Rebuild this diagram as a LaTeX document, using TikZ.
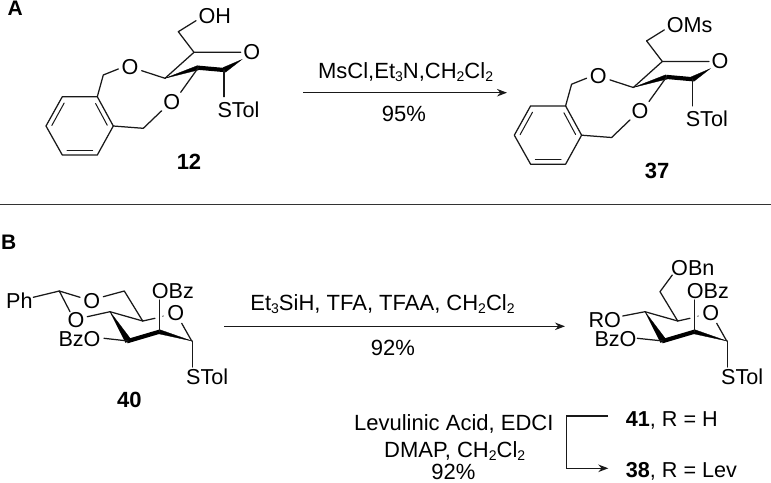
\documentclass[tikz,border=0pt]{standalone}
\usepackage{fontspec}
\setmainfont{Liberation Sans}
\usetikzlibrary{arrows.meta}
\newcommand\chemsub[1]{\raisebox{-0.28ex}{\fontsize{14}{15}\selectfont #1}}
\tikzset{
  lbl/.style={inner sep=0pt,anchor=base west,font=\fontsize{21.6}{25}\selectfont},
  lblc/.style={inner sep=0pt,anchor=base,font=\fontsize{22}{25}\selectfont},
  atom/.style={inner sep=0pt,anchor=center,font=\fontsize{21.6}{25}\selectfont},
  num/.style={inner sep=0pt,anchor=base,font=\fontsize{22}{25}\selectfont\bfseries},
  panel/.style={inner sep=0pt,anchor=base west,font=\fontsize{21}{24}\selectfont\bfseries},
  bond/.style={draw=black!90,line width=1.25pt,line cap=round,line join=round},
  thin bond/.style={draw=black!90,line width=1pt,line cap=round},
  wedge/.style={fill=black,draw=black,line width=0.3pt},
  rxn/.style={draw=black!90,line width=1.25pt,-{Stealth[length=10pt,width=7.5pt]}},
  rule/.style={draw=black!80,line width=1pt}
}
\newcommand\xylomol[2]{%
  \begin{scope}[shift={#1},name prefix=#2-]
    \coordinate (c5) at (194,52.3);
    \coordinate (ch6) at (178.3,31.7);
    \coordinate (c4) at (165,78.3);
    \coordinate (c3) at (198.3,67.7);
    \coordinate (c1) at (224,70);
    \coordinate (b1) at (97.3,96.7);
    \coordinate (b2) at (113.3,126);
    \coordinate (b3) at (97.3,155);
    \coordinate (b4) at (62.3,155);
    \coordinate (b5) at (46,126);
    \coordinate (b6) at (62.3,96.7);
    \node[atom] (ringo) at (251.7,52.3) {O};
    \node[atom] (ol) at (130,66.7) {O};
    \node[atom] (ou) at (171.7,101.7) {O};
    \node[lbl] (st) at (217.3,117.5) {STol};
    \draw[bond] (ch6) -- (196,20.7);
    \draw[bond] (ch6) -- (c5) -- (240.7,52.3);
    \draw[bond] (c5) -- (c4);
    \fill[wedge] (c4) -- (197.5,65.6) -- (199,69.8) -- cycle;
    \draw[line width=4.2pt] (198,67.7) -- (224,70);
    \fill[wedge] (223,67.6) -- (241.7,59.6) -- (225.5,72.2) -- cycle;
    \draw[bond] (141.7,70.7) -- (c4);
    \draw[bond] (118.3,69) -- (103.3,75) -- (b1);
    \draw[bond] (c3) -- (180.7,92.3);
    \draw[bond] (161.7,110.7) -- (143.3,128.3) -- (b2);
    \draw[bond] (c1) -- (224,96.7);
    \draw[bond] (b1) -- (b2) -- (b3) -- (b4) -- (b5) -- (b6) -- cycle;
    \draw[thin bond] (95.6,103.5) -- (107.3,125.3);
    \draw[thin bond] (67,150.3) -- (92.7,150.3);
    \draw[thin bond] (51.8,125.5) -- (64.2,103);
  \end{scope}}
\newcommand\manring[2]{%
  \begin{scope}[shift={#2},name prefix=#1-]
    \coordinate (c5) at (142.7,321);
    \coordinate (c4) at (110,311.7);
    \coordinate (c3) at (128.3,341);
    \coordinate (c2) at (159.3,331.7);
    \coordinate (c1) at (191.7,341);
    \node[atom] (ro) at (175.7,312.7) {O};
    \draw[bond] (c5) -- (c4);
    \draw[bond] (c5) -- (155,318.3);
    \draw[thin bond,line width=0.8pt] (162.6,316.2) -- (163.4,316);
    \fill[wedge] (c4) -- (125.6,342.6) -- (131,339.4) -- cycle;
    \draw[line width=4.2pt,line join=round] (127,341.3) -- (159.5,331.7);
    \fill[wedge] (159.5,329.6) -- (191.9,341) -- (158.8,333.8) -- cycle;
    \draw[bond] (c1) -- (181.7,323.3);
    \draw[bond] (c2) -- (159.3,300);
    \draw[bond] (192.2,341) -- (192.2,367);
    \node[lbl] (st) at (186,384.3) {STol};
    \node[lbl] (obz) at (151.7,298.2) {OBz};
  \end{scope}}
\begin{document}
\begin{tikzpicture}[x=1pt,y=-1pt]
\useasboundingbox (0,0) rectangle (771,482);
\fill[white] (0,0) rectangle (771,482);
\node[panel] (pa) at (7.5,15.5) {A};
\node[panel] (pb) at (1,249.5) {B};
\coordinate (rl) at (0,204);
\coordinate (rr) at (771,204);
\draw[rule] (rl) -- (rr);

% --- A ---
\xylomol{(0,0)}{m12}
\node[lbl] (oh) at (198.3,23.2) {OH};
\node[num] (n12) at (189,169) {12};
\xylomol{(468.3,9.2)}{m37}
\node[lbl] (oms) at (666.7,32) {OMs};
\node[num] (n37) at (657,178) {37};
\coordinate (a1) at (303,92.7);
\coordinate (a2) at (507,92.7);
\draw[rxn] (a1) -- (a2);
\node[lblc] (ra) at (405.6,78.3) {MsCl,Et\chemsub{3}N,CH\chemsub{2}Cl\chemsub{2}};
\node[lblc] (ya) at (404,121) {95\%};

% --- B ---
\manring{m40}{(0,0)}
\coordinate (ac) at (59.3,291);
\coordinate (ch) at (124.3,291);
\node[lbl] (ph) at (6,308.2) {Ph};
\node[atom] (o1) at (91.7,300.7) {O};
\node[atom] (o2) at (76,320.5) {O};
\node[lbl] (bzo) at (58.3,346.5) {BzO};
\node[num] (n40) at (129.3,407.5) {40};
\draw[bond] (33.3,297.3) -- (ac) -- (80,297.3);
\draw[bond] (103.3,296.7) -- (ch) -- (m40-c5);
\draw[bond] (87.3,316.7) -- (m40-c4);
\draw[bond] (70,311.7) -- (ac);
\draw[bond] (104,338.3) -- (m40-c3);

\coordinate (b1) at (224,326.3);
\coordinate (b2) at (565,326.3);
\draw[rxn] (b1) -- (b2);
\node[lblc] (rb) at (382.5,310) {Et\chemsub{3}SiH, TFA, TFAA, CH\chemsub{2}Cl\chemsub{2}};
\node[lblc] (yb) at (393,355.5) {92\%};

\manring{m41}{(535,0)}
\coordinate (ch2) at (660,291.7);
\node[lbl] (obn) at (671,275.8) {OBn};
\node[lbl] (ro) at (588.3,327) {RO};
\node[lbl] (bzo2) at (594.3,346) {BzO};
\draw[bond] (672.3,275) -- (ch2) -- (m41-c5);
\draw[bond] (622.7,316) -- (m41-c4);
\draw[bond] (637.3,338.3) -- (m41-c3);

\node[lblc] (l1) at (453.8,430.7) {Levulinic Acid, EDCI};
\node[lblc] (l2) at (454.7,457) {DMAP, CH\chemsub{2}Cl\chemsub{2}};
\node[lblc] (l3) at (453.3,479.3) {92\%};
\node[lbl] (n41) at (625.7,426) {\textbf{41}, R = H};
\node[lbl] (n38) at (625.7,477.5) {\textbf{38}, R = Lev};
\coordinate (k1) at (608,416);
\coordinate (k2) at (566.7,416);
\coordinate (k3) at (566.7,468.3);
\coordinate (k4) at (608.3,468.3);
\draw[rxn] (k1) -- (k2) -- (k3) -- (k4);
\end{tikzpicture}
\end{document}
